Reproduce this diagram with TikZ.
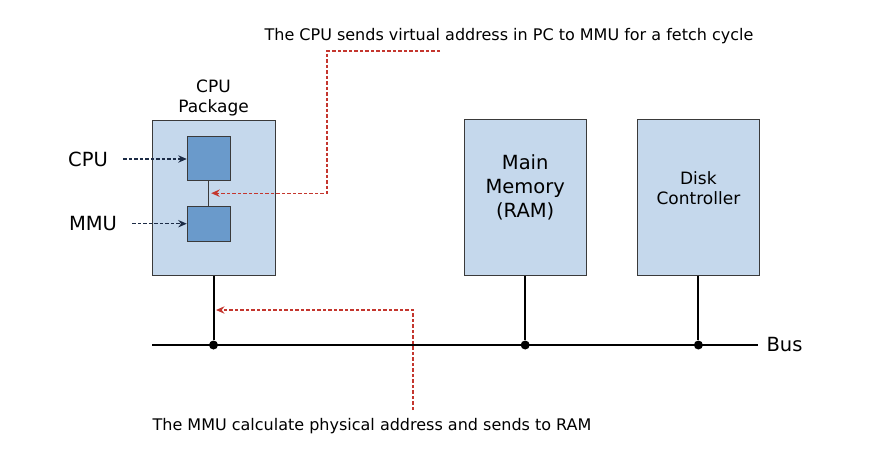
\documentclass[tikz,border=0pt]{standalone}
\usepackage{fontspec}
\setmainfont{DejaVu Sans}
\usepackage{tikz}
\usetikzlibrary{arrows.meta,calc,positioning}
\definecolor{hwedge}{HTML}{3A3A3A}
\definecolor{hwfill}{HTML}{C5D8EC}
\definecolor{hwcore}{HTML}{6A9ACB}
\definecolor{hwred}{HTML}{C4362E}
\definecolor{hwnavy}{HTML}{1C2B45}
\tikzset{
  unitbox/.style={
    draw=hwedge,
    fill=hwfill,
    line width=.9pt,
    inner sep=0pt
  },
  corebox/.style={
    draw=hwedge,
    fill=hwcore,
    line width=.9pt,
    inner sep=0pt
  },
  bigtext/.style={font=\fontsize{19.5pt}{24pt}\selectfont, align=center},
  midtext/.style={font=\fontsize{17pt}{20pt}\selectfont, align=center},
  notetext/.style={font=\fontsize{16pt}{19pt}\selectfont},
  wire/.style={line width=2pt, draw=black},
  dot/.style={circle, fill=black, inner sep=0pt, minimum size=9pt},
  pointer/.style={
    -{Stealth[length=3mm, width=2.6mm, inset=1mm]},
    dash pattern=on 3.5pt off 2pt,
    line width=1.3pt,
    draw=hwnavy
  },
  note/.style={
    -{Stealth[length=3mm, width=2.6mm, inset=1mm]},
    dash pattern=on 3.5pt off 2pt,
    line width=1.3pt,
    draw=hwred
  }
}

\begin{document}
\begin{tikzpicture}[x=1pt,y=-1pt]
  \useasboundingbox (0,0) rectangle (874,448);

  % units on the bus
  \node[unitbox, minimum width=123pt, minimum height=155.5pt] (pkg) at (213.5,197.8) {};
  \node[corebox, minimum width=43pt, minimum height=43.6pt] (cpu) at (208.7,158.5) {};
  \node[corebox, minimum width=43pt, minimum height=35.3pt] (mmu) at (208.7,223.7) {};
  \node[midtext, above=0pt of pkg] (pkglbl) {CPU\\Package};

  \node[unitbox, minimum width=122pt, minimum height=156pt] (mem) at (525.2,197.5) {};
  \node[bigtext] (memlbl) at ([yshift=10pt]mem.center) {Main\\Memory\\(RAM)};
  \node[unitbox, minimum width=121.5pt, minimum height=156pt] (disk) at (698.4,197.5) {};
  \node[midtext] (disklbl) at ([yshift=9pt]disk.center) {Disk\\Controller};

  \draw[line width=1.4pt, draw=hwedge] (cpu) -- (mmu);
  \coordinate (linkmid) at ($(cpu.south)!0.5!(mmu.north)$);

  % side labels
  \node[bigtext] (cpulbl) at (88,159) {CPU};
  \node[bigtext] (mmulbl) at (93,223.7) {MMU};
  \draw[pointer, shorten <=12pt] (cpulbl.east) -- (cpulbl.east -| cpu.west);
  \draw[pointer, shorten <=12pt] (mmulbl.east) -- (mmulbl.east -| mmu.west);

  % bus
  \coordinate (busL) at (152,345);
  \coordinate (busR) at (758,345);
  \draw[line width=2.8pt] (busL) -- (busR);
  \node[bigtext, anchor=west, right=5pt of busR] (buslbl) {Bus};
  \node[dot] (dpkg) at (pkg.south |- busL) {};
  \node[dot] (dmem) at (mem.south |- busL) {};
  \node[dot] (ddisk) at (disk.south |- busL) {};
  \draw[wire] (pkg.south) -- (dpkg);
  \draw[wire] (mem.south) -- (dmem);
  \draw[wire] (disk.south) -- (ddisk);

  % notes
  \node[notetext] (fetchnote) at (509,36) {The CPU sends virtual address in PC to MMU for a fetch cycle};
  \node[notetext] (physnote) at (372,426) {The MMU calculate physical address and sends to RAM};
  \coordinate (fetchend) at (440,51);
  \coordinate (physend) at (413,410);
  \coordinate (pkgmid) at (pkg.south |- 0,310);
  \draw[note] (fetchend) -- ++(-113,0) |- ([xshift=2.5pt]linkmid);
  \draw[note] (physend) |- ([xshift=2.5pt]pkgmid);
\end{tikzpicture}
\end{document}
